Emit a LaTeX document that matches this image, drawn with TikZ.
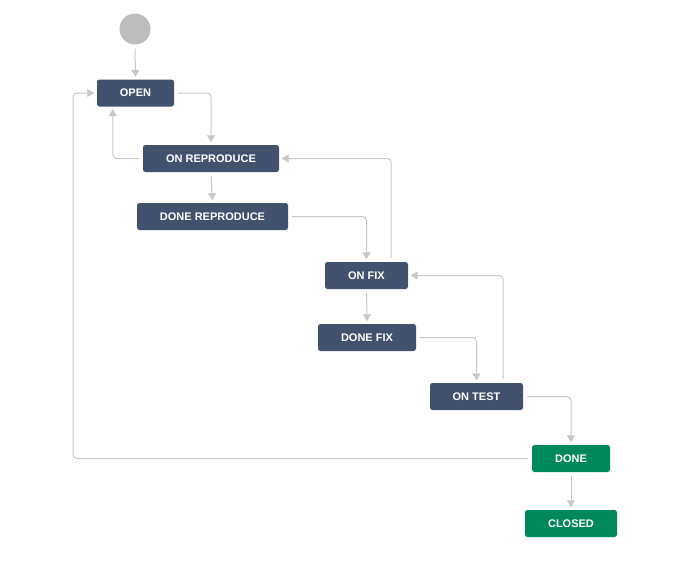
\documentclass[tikz,border=0pt]{standalone}
\usepackage{fontspec}
\setmainfont{Liberation Sans}
\usetikzlibrary{arrows.meta}
\definecolor{stblue}{HTML}{42526E}
\definecolor{stgreen}{HTML}{00875A}
\definecolor{conncol}{HTML}{C8C8C8}
\definecolor{startcol}{HTML}{BDBDBD}
\tikzset{
  state/.style={fill=stblue, rounded corners=2.5pt, text=white, font=\fontsize{11}{12}\selectfont\bfseries, minimum height=27pt, inner sep=0pt, anchor=center},
  donestate/.style={state, fill=stgreen},
  conn/.style={draw=conncol, line width=1pt, rounded corners=4pt, shorten <=4pt, shorten >=2.5pt, -{Triangle[width=8pt,length=7pt]}, color=conncol}
}
\begin{document}
\begin{tikzpicture}[x=1pt,y=-1pt]
\path[use as bounding box, fill=white] (0,0) rectangle (678,570);
\node[circle, fill=startcol, minimum size=31pt, inner sep=0pt] (start) at (135,29) {};
\node[state, minimum width=77pt] (open) at (135.5,93) {OPEN};
\node[state, minimum width=136pt] (onrep) at (211,158.5) {ON REPRODUCE};
\node[state, minimum width=151pt] (donerep) at (212.5,216.5) {DONE REPRODUCE};
\node[state, minimum width=83pt] (onfix) at (366.5,275.5) {ON FIX};
\node[state, minimum width=98pt] (donefix) at (367,337.5) {DONE FIX};
\node[state, minimum width=93pt] (ontest) at (476.5,396.5) {ON TEST};
\node[donestate, minimum width=78pt] (done) at (571,458.5) {DONE};
\node[donestate, minimum width=92pt] (closed) at (571,523.5) {CLOSED};
\coordinate (lc) at (73,458.5);

\draw[conn] (start) -- (open);
\draw[conn] (open.east) -| (onrep.north);
\draw[conn] (onrep.west) -| ([xshift=16pt]open.south west);
\draw[conn] (onrep.south) -- (donerep.north);
\draw[conn] (donerep.east) -| (onfix.north);
\draw[conn] ([xshift=-17pt]onfix.north east) |- (onrep.east);
\draw[conn] (onfix.south) -- (donefix.north);
\draw[conn] (donefix.east) -| (ontest.north);
\draw[conn] ([xshift=-20pt]ontest.north east) |- (onfix.east);
\draw[conn] (ontest.east) -| (done.north);
\draw[conn] (done.west) -- (lc) |- (open.west);
\draw[conn] (done.south) -- (closed.north);
\end{tikzpicture}
\end{document}
